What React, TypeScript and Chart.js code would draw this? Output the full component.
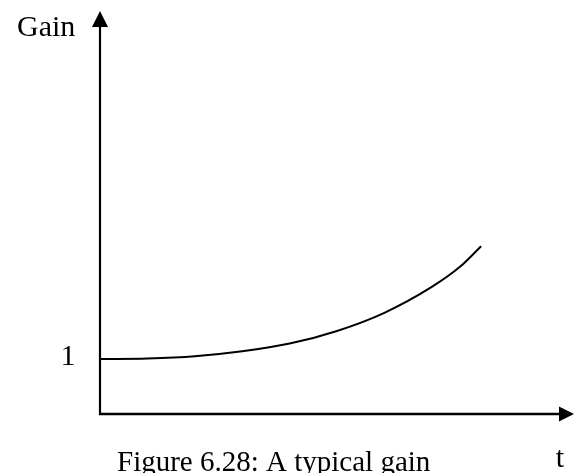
import React, { useEffect, useRef } from "react";
import { Chart, registerables } from "chart.js";

Chart.register(...registerables);

// Data
const tValues = [0, 1, 2, 3, 4, 5, 6, 7, 7.6, 8.04];
const gainValues = [1.0, 1.01, 1.05, 1.14, 1.28, 1.51, 1.84, 2.31, 2.68, 3.05];
const yTickLabels = ["1"];
const yTickValues = [1];
const yAxisTitle = "Gain";
const xAxisTitle = "t";
const caption = "Figure 6.28: A typical gain";

const FONT = "'Liberation Serif', 'Times New Roman', serif";

const axesPlugin = {
  id: "axesPlugin",
  afterDatasetsDraw(chart: any) {
    const { ctx, chartArea, scales } = chart;
    const xs = scales.x;
    const ys = scales.y;
    const x0 = xs.getPixelForValue(0);
    const y0 = ys.getPixelForValue(0);
    const top = chartArea.top;
    const right = chartArea.right;
    ctx.save();
    ctx.strokeStyle = "#000";
    ctx.fillStyle = "#000";
    ctx.lineWidth = 2.2;
    ctx.lineCap = "butt";
    // y axis
    ctx.beginPath();
    ctx.moveTo(x0, y0 + 1);
    ctx.lineTo(x0, top + 14);
    ctx.stroke();
    ctx.beginPath();
    ctx.moveTo(x0, top);
    ctx.lineTo(x0 - 8, top + 16);
    ctx.lineTo(x0 + 8, top + 16);
    ctx.closePath();
    ctx.fill();
    // x axis
    ctx.lineWidth = 2.6;
    ctx.beginPath();
    ctx.moveTo(x0 - 1, y0);
    ctx.lineTo(right - 13, y0);
    ctx.stroke();
    ctx.beginPath();
    ctx.moveTo(right, y0);
    ctx.lineTo(right - 15, y0 - 7.5);
    ctx.lineTo(right - 15, y0 + 7.5);
    ctx.closePath();
    ctx.fill();

    // texts
    ctx.textBaseline = "alphabetic";
    ctx.font = `30px ${FONT}`;
    ctx.textAlign = "left";
    ctx.fillText(yAxisTitle, 17, 36);
    ctx.textAlign = "center";
    yTickValues.forEach((v, i) => {
      ctx.fillText(yTickLabels[i], 68, ys.getPixelForValue(v) + 6);
    });
    ctx.fillText(xAxisTitle, 560, 467);
    ctx.font = `29px ${FONT}`;
    ctx.textAlign = "left";
    ctx.fillText(caption, 117, 471);
    ctx.restore();
  },
};

export default function App() {
  const ref = useRef<HTMLCanvasElement | null>(null);
  useEffect(() => {
    if (!ref.current) return;
    const chart = new Chart(ref.current, {
      type: "line",
      data: {
        datasets: [
          {
            data: tValues.map((t, i) => ({ x: t, y: gainValues[i] })),
            borderColor: "#000",
            borderWidth: 2,
            pointRadius: 0,
            cubicInterpolationMode: "monotone",
            fill: false,
          },
        ],
      },
      options: {
        animation: false,
        responsive: false,
        maintainAspectRatio: false,
        devicePixelRatio: 1,
        layout: { padding: { left: 100, right: 10, top: 11, bottom: 59 } },
        plugins: {
          legend: { display: false },
          tooltip: { enabled: false },
          title: { display: false },
        },
        scales: {
          x: { type: "linear", min: 0, max: 10, display: false },
          y: { type: "linear", min: 0, max: 7.327, display: false },
        },
      } as any,
      plugins: [axesPlugin],
    });
    return () => chart.destroy();
  }, []);
  return (
    <div style={{ position: "fixed", left: 0, top: 0, width: 584, height: 473, background: "#fff" }}>
      <canvas ref={ref} width={584} height={473} style={{ display: "block", width: 584, height: 473 }} />
    </div>
  );
}
